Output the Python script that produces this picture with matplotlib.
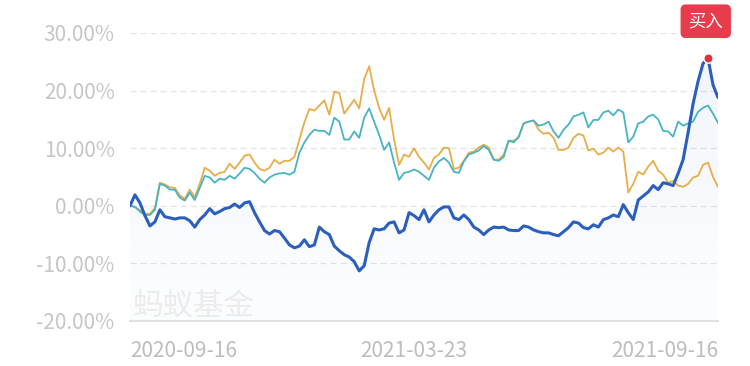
import numpy as np
import matplotlib
matplotlib.use("Agg")
import matplotlib.pyplot as plt

plt.rcParams['font.family'] = ['Noto Sans CJK SC', 'DejaVu Sans']

# cumulative return (%), one value roughly every 2 trading days, 2020-09-16 .. 2021-09-16
fund = [0.0, 1.9, 0.5, -1.7, -3.5, -2.8, -0.7, -1.9, -2.1, -2.3,
        -2.1, -2.1, -2.6, -3.7, -2.4, -1.6, -0.5, -1.4, -1.0, -0.5,
        -0.3, 0.3, -0.3, 0.5, 0.7, -1.2, -2.8, -4.3, -4.9, -4.3,
        -4.5, -5.6, -6.8, -7.3, -7.0, -5.9, -7.1, -6.8, -3.7, -4.5,
        -5.0, -7.0, -7.8, -8.5, -8.9, -9.7, -11.3, -10.4, -6.4, -4.0,
        -4.2, -4.0, -3.0, -2.8, -4.7, -4.2, -1.2, -1.7, -2.4, -0.7,
        -2.8, -1.6, -0.7, -0.2, -0.2, -2.1, -2.4, -1.6, -2.4, -3.7,
        -4.2, -5.0, -4.2, -3.7, -3.8, -3.7, -4.2, -4.3, -4.3, -3.5,
        -3.7, -4.2, -4.5, -4.7, -4.7, -5.0, -5.2, -4.5, -3.8, -2.8,
        -3.0, -3.8, -4.0, -3.3, -3.7, -2.4, -2.1, -1.6, -1.9, 0.2,
        -1.2, -2.4, 1.0, 1.7, 2.4, 3.5, 2.8, 4.0, 3.8, 3.5,
        5.6, 8.0, 12.7, 17.7, 21.6, 24.7, 25.6, 21.0, 18.8]

benchmark = [0.0, -0.2, -1.0, -1.6, -1.6, -0.7, 3.8, 3.5, 2.8, 2.8,
             1.4, 0.9, 2.3, 1.0, 3.1, 5.2, 4.9, 4.0, 4.7, 4.5,
             5.2, 4.7, 5.6, 6.6, 6.4, 5.7, 4.7, 4.0, 4.9, 5.4,
             5.6, 5.7, 5.4, 5.9, 9.2, 11.0, 12.3, 13.2, 13.0, 13.0,
             12.3, 15.3, 14.6, 11.5, 11.5, 12.9, 11.8, 15.3, 16.9, 14.6,
             12.3, 9.7, 11.0, 7.5, 4.5, 5.7, 5.9, 6.3, 5.9, 5.2,
             4.5, 6.6, 7.7, 8.3, 7.5, 5.9, 5.7, 7.7, 8.9, 9.2,
             9.6, 10.4, 9.7, 8.0, 7.8, 8.5, 11.3, 11.0, 12.0, 14.3,
             14.6, 14.8, 13.9, 14.1, 14.6, 12.9, 11.8, 13.2, 14.1, 15.5,
             15.8, 16.2, 13.6, 14.9, 14.9, 16.2, 16.5, 15.7, 16.7, 16.2,
             11.0, 12.0, 14.3, 14.6, 15.5, 15.8, 15.0, 13.0, 12.9, 12.0,
             14.6, 13.9, 14.3, 14.6, 16.3, 17.0, 17.4, 16.0, 14.4]

peers = [0.0, -0.2, -0.8, -1.4, -1.4, -0.4, 4.0, 3.7, 3.2, 3.1,
         1.8, 1.2, 2.8, 1.5, 3.8, 6.6, 6.1, 5.2, 5.7, 5.9,
         7.3, 6.4, 7.5, 8.7, 8.9, 7.5, 6.4, 6.1, 6.6, 8.0,
         7.3, 7.8, 7.8, 8.5, 11.5, 14.5, 16.8, 16.5, 17.4, 18.3,
         15.8, 19.8, 19.6, 16.0, 17.2, 18.4, 16.9, 22.0, 24.2, 20.0,
         17.0, 14.9, 17.0, 11.5, 7.1, 8.9, 8.5, 10.0, 8.5, 7.5,
         6.3, 8.3, 8.9, 10.1, 10.0, 6.4, 6.6, 7.8, 9.2, 9.4,
         10.1, 10.6, 10.1, 8.0, 8.0, 8.9, 11.3, 11.3, 11.8, 14.3,
         14.6, 14.8, 13.2, 12.5, 12.7, 11.8, 9.7, 9.7, 10.1, 11.8,
         12.5, 12.2, 9.6, 9.9, 8.9, 9.2, 10.1, 9.4, 10.1, 9.4,
         2.3, 3.8, 5.9, 5.4, 6.8, 7.8, 6.1, 5.4, 4.0, 4.3,
         3.5, 3.3, 3.8, 4.9, 5.2, 7.1, 7.5, 5.0, 3.3]

date_labels = ["2020-09-16", "2021-03-23", "2021-09-16"]
y_ticks = [-20, -10, 0, 10, 20, 30]

n = len(fund)
x = np.arange(n)

fig = plt.figure(figsize=(7.5, 3.66), dpi=100)
ax = fig.add_axes([0.1733, 0.123, 0.7840, 0.787])

# very faint gradient under the fund line
poly = ax.fill_between(x, fund, -20, color='none', lw=0)
grad = np.zeros((256, 1, 4))
grad[:, 0, :3] = matplotlib.colors.to_rgb('#3a70d0')
grad[:, 0, 3] = np.linspace(0.07, 0.015, 256)
im = ax.imshow(grad, extent=[0, n - 1, -20, max(fund)], aspect='auto',
               origin='upper', zorder=1)
im.set_clip_path(poly.get_paths()[0], transform=ax.transData)

ax.plot(x, peers, color='#e8ad48', lw=1.3, zorder=3)
ax.plot(x, benchmark, color='#47b3c4', lw=1.3, zorder=4)
ax.plot(x, fund, color='#2c5fbd', lw=2.2, zorder=5, solid_capstyle='round')

top = int(np.argmax(fund))
ax.scatter([top], [fund[top]], s=45, color='#d93240', edgecolor='white',
           linewidth=1.0, zorder=6)

ax.set_xlim(0, n - 1)
ax.set_ylim(-20, 30)

for v in y_ticks[1:]:
    ax.axhline(v, color='#e4e4e4', lw=0.9, ls=(0, (5, 3)), zorder=0)

for s in ['top', 'right', 'left']:
    ax.spines[s].set_visible(False)
ax.spines['bottom'].set_color('#e0e0e0')
ax.spines['bottom'].set_linewidth(1.5)

ax.set_yticks(y_ticks)
ax.set_yticklabels([f"{v:.2f}%" for v in y_ticks])
ax.tick_params(axis='y', length=0, pad=11, labelsize=15, labelcolor='#c6c6c6')

mid = round(0.48 * (n - 1))
ax.set_xticks([0, mid, n - 1])
ax.set_xticklabels(date_labels)
ax.tick_params(axis='x', length=0, pad=14, labelsize=15, labelcolor='#bdbdbd')
lbls = ax.get_xticklabels()
lbls[0].set_ha('left')
lbls[2].set_ha('right')
ax.set_xticks([0, n - 1], minor=True)
ax.tick_params(axis='x', which='minor', length=6, width=1.2, color='#e0e0e0')

ax.text(0.005, -0.005, "蚂蚁基金", transform=ax.transAxes, fontsize=22,
        color='#ececec', ha='left', va='bottom', zorder=2)

fig.text(0.941, 0.942, "买入", fontsize=12.5, color='white', ha='center', va='center',
         bbox=dict(boxstyle='round,pad=0.45,rounding_size=0.3', fc='#e63c4c', ec='none'))

fig.savefig("out.png", dpi=100, facecolor='white')
